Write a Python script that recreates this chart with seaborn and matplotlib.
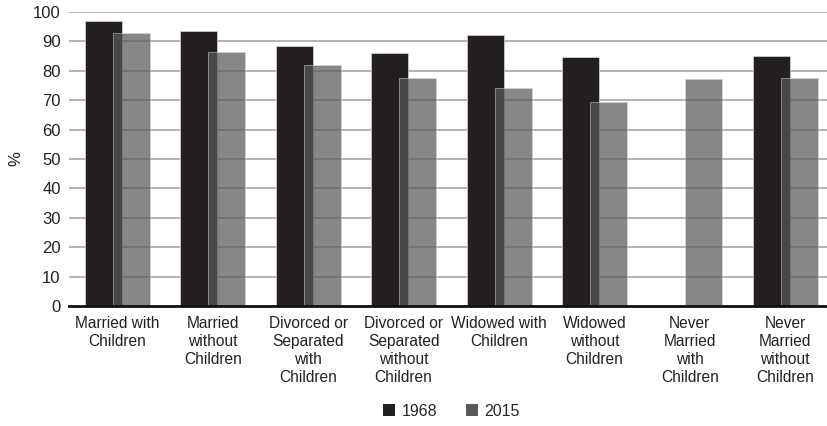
import pandas as pd
import matplotlib
matplotlib.use("Agg")
import matplotlib.pyplot as plt
from matplotlib.patches import Patch
import seaborn as sns

# chart data
categories = [
    "Married with\nChildren",
    "Married\nwithout\nChildren",
    "Divorced or\nSeparated\nwith\nChildren",
    "Divorced or\nSeparated\nwithout\nChildren",
    "Widowed with\nChildren",
    "Widowed\nwithout\nChildren",
    "Never\nMarried\nwith\nChildren",
    "Never\nMarried\nwithout\nChildren",
]
values_1968 = [96.8, 93.6, 88.4, 86.2, 92.2, 84.6, None, 85.0]
values_2015 = [92.8, 86.3, 81.9, 77.7, 74.0, 69.5, 77.2, 77.6]
years = ["1968", "2015"]
y_ticks = list(range(0, 101, 10))

colors = {"1968": "#231f20", "2015": "#595959"}

sns.set_style("white")
plt.rcParams["font.family"] = ["Liberation Sans", "DejaVu Sans"]

df = pd.DataFrame({
    "category": categories * 2,
    "year": ["1968"] * len(categories) + ["2015"] * len(categories),
    "value": values_1968 + values_2015,
})

fig = plt.figure(figsize=(8.28, 4.26), dpi=100)
ax = fig.add_axes([0.0833, 0.2817, 0.9167, 0.6901])

# gridlines below the bars
for t in y_ticks[1:]:
    ax.axhline(t, color="#b3b3b3", lw=1.4, zorder=0)

sns.barplot(data=df, x="category", y="value", hue="year", order=categories,
            hue_order=years, palette=colors, width=0.588, gap=-0.32,
            saturation=1, errorbar=None, legend=False, ax=ax, zorder=2,
            edgecolor="#d9d9d9", linewidth=0.5)

# the 2015 bars are see-through where they cover the 1968 bars
for bar in ax.containers[1].patches:
    bar.set_alpha(0.72)
    bar.set_zorder(3)

ax.set_xlim(-0.51, 7.45)
ax.set_ylim(0, 100)
ax.set_yticks(y_ticks)
ax.tick_params(axis="both", length=0, labelsize=12, labelcolor="#222222")
ax.tick_params(axis="y", pad=6)
ax.tick_params(axis="x", pad=7)
for lab in ax.get_xticklabels():
    lab.set_fontsize(11.2)
    lab.set_linespacing(1.25)

ax.set_xlabel("")
ax.set_ylabel("%", fontsize=12, color="#222222")
ax.yaxis.set_label_coords(-0.06, 0.5)

for side in ["top", "right", "left"]:
    ax.spines[side].set_visible(False)
ax.spines["bottom"].set_color("#111111")
ax.spines["bottom"].set_linewidth(2)
ax.spines["bottom"].set_zorder(4)

handles = [Patch(facecolor=colors[y], edgecolor="none", label=y) for y in years]
fig.legend(handles=handles, loc="center", bbox_to_anchor=(0.545, 0.035), ncol=2,
           frameon=False, fontsize=11.5, handlelength=0.75, handleheight=0.75,
           handletextpad=0.4, columnspacing=1.8)

fig.savefig("out.png", dpi=100)
